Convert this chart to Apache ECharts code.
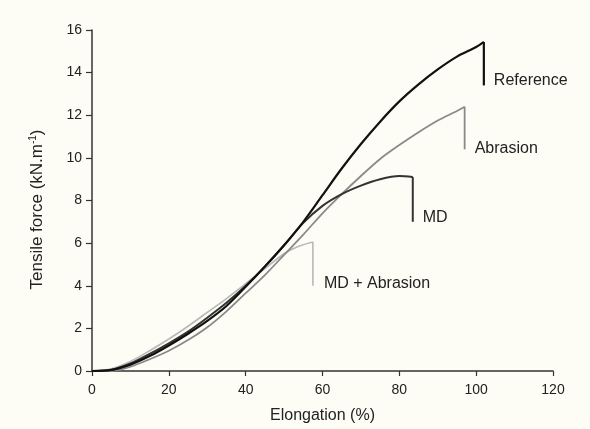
<!DOCTYPE html>
<html>
<head>
<meta charset="utf-8">
<script src="https://cdn.jsdelivr.net/npm/echarts@6/dist/echarts.min.js"></script>
<style>
  html, body { margin: 0; padding: 0; background: #fdfdf5; }
  #chart { width: 590px; height: 429px; }
</style>
</head>
<body>
<div id="chart"></div>
<script>
// values: [elongation %, tensile force kN/m]
// the last point of each list is the bottom of the failure drop
var reference = [[0,0],[5,0.05],[10,0.3],[15,0.7],[20,1.2],[25,1.75],[30,2.35],[35,3.05],[40,3.95],[45,4.9],[50,5.9],[55,7.0],[60,8.25],[65,9.5],[70,10.65],[75,11.7],[80,12.65],[85,13.45],[90,14.15],[95,14.75],[100,15.2],[102,15.44],[102,13.4]];
var abrasion = [[0,0],[5,0],[10,0.2],[15,0.55],[20,0.95],[25,1.45],[30,2.05],[35,2.8],[40,3.65],[45,4.5],[50,5.45],[55,6.4],[60,7.4],[65,8.3],[70,9.15],[75,9.95],[80,10.6],[85,11.2],[90,11.75],[95,12.2],[97,12.4],[97,10.4]];
var md = [[0,0],[5,0.05],[10,0.35],[15,0.8],[20,1.3],[25,1.85],[30,2.5],[35,3.2],[40,4.0],[45,4.9],[50,5.9],[55,6.95],[60,7.75],[65,8.3],[70,8.7],[75,9.0],[80,9.15],[83.5,9.1],[83.5,7.0]];
var mdAbrasion = [[0,0],[5,0.1],[10,0.45],[15,0.95],[20,1.5],[25,2.1],[30,2.75],[35,3.4],[40,4.1],[45,4.8],[50,5.5],[53.5,5.83],[57.5,6.05],[57.5,4.0]];

var xTicks = { min: 0, max: 120, step: 20 };
var yTicks = { min: 0, max: 16, step: 2 };

var font = 'Liberation Sans, Arial, sans-serif';
var chart = echarts.init(document.getElementById('chart'));

// smooth rising part + straight vertical drop carrying the label
function curve(name, data, color, width, offset) {
	var n = data.length;
	return [{
		name: name,
		type: 'line',
		data: data.slice(0, n - 1),
		symbol: 'none',
		smooth: 0.3,
		lineStyle: { color: color, width: width }
	}, {
		name: name,
		type: 'line',
		data: data.slice(n - 2),
		symbol: 'none',
		lineStyle: { color: color, width: width },
		endLabel: {
			show: true,
			formatter: '{a}',
			distance: 0,
			offset: offset,
			color: '#222',
			fontFamily: font,
			fontSize: 16
		}
	}];
}

chart.setOption({
	backgroundColor: '#fdfdf5',
	animation: false,
	grid: { left: 92, right: 37, top: 30, bottom: 56 },
	xAxis: {
		type: 'value',
		min: xTicks.min, max: xTicks.max, interval: xTicks.step,
		name: 'Elongation (%)',
		nameLocation: 'middle',
		nameGap: 37,
		nameTextStyle: { fontFamily: font, fontSize: 16, color: '#222' },
		axisLine: { lineStyle: { color: '#333', width: 1.5 } },
		axisTick: { length: 5, lineStyle: { color: '#333', width: 1.2 } },
		axisLabel: { margin: 12, fontFamily: font, fontSize: 14, color: '#222' },
		splitLine: { show: false }
	},
	yAxis: {
		type: 'value',
		min: yTicks.min, max: yTicks.max, interval: yTicks.step,
		name: '{t|Tensile force (kN.m}{s|-1}{t|)}',
		nameLocation: 'middle',
		nameGap: 46,
		nameTextStyle: {
			padding: [0, 18, 0, 0],
			rich: {
				t: { fontFamily: font, fontSize: 17, color: '#222' },
				s: { fontFamily: font, fontSize: 10, color: '#222', verticalAlign: 'top', padding: [0, 0, 8, 0] }
			}
		},
		axisLine: { show: true, lineStyle: { color: '#333', width: 1.5 } },
		axisTick: { show: true, length: 6, lineStyle: { color: '#333', width: 1.2 } },
		axisLabel: { margin: 10, fontFamily: font, fontSize: 14, color: '#222' },
		splitLine: { show: false }
	},
	series: [].concat(
		curve('MD + Abrasion', mdAbrasion, '#b8b8b8', 1.6, [11, -2]),
		curve('Abrasion', abrasion, '#8a8a8a', 1.8, [10, -1]),
		curve('MD', md, '#333333', 2, [10, -4]),
		curve('Reference', reference, '#111111', 2.2, [10, -5])
	)
});
</script>
</body>
</html>
